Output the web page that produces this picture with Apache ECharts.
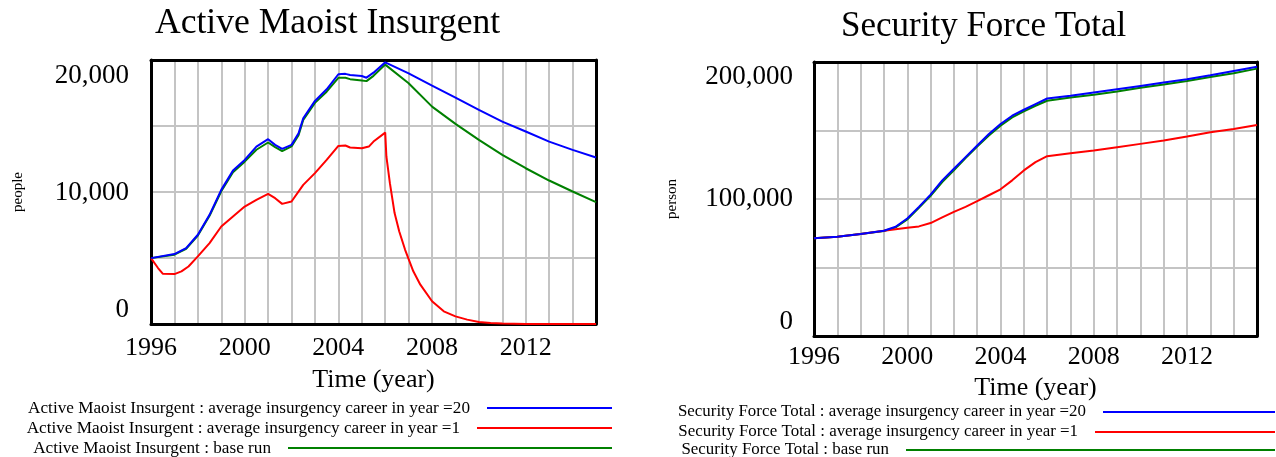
<!DOCTYPE html>
<html>
<head>
<meta charset="utf-8">
<script src="https://cdn.jsdelivr.net/npm/echarts@6/dist/echarts.min.js"></script>
<style>
html,body{margin:0;padding:0;background:#fff;}
#main{width:1276px;height:457px;}
</style>
</head>
<body>
<div id="main"></div>
<script>
// Active Maoist Insurgent (people)
var insYears=[1996,1997,1997.5,1998,1998.5,1999,1999.5,2000,2000.5,2001,2001.3,2001.6,2002,2002.3,2002.5,2003,2003.5,2004,2004.3,2004.5,2005,2005.2,2005.5,2006,2007,2008,2009,2010,2011,2012,2013,2014,2015];
var insCareer20=[4990,5300,5750,6760,8270,10160,11630,12430,13440,14000,13570,13270,13570,14450,15590,16900,17780,18920,18950,18870,18790,18660,19040,19820,18990,18060,17150,16220,15330,14580,13820,13190,12610];
var insBase=[4990,5250,5700,6700,8200,10050,11500,12300,13200,13750,13400,13100,13450,14300,15450,16750,17600,18650,18650,18550,18450,18400,18800,19650,18240,16470,15160,13950,12810,11800,10870,10040,9230];
var insRedYears=[1996,1996.3,1996.5,1997,1997.3,1997.6,1998,1998.5,1999,1999.5,2000,2000.5,2001,2001.3,2001.6,2002,2002.5,2003,2003.5,2004,2004.3,2004.5,2005,2005.3,2005.5,2006,2006.05,2006.2,2006.4,2006.6,2006.85,2007.2,2007.5,2008,2008.5,2009,2009.5,2010,2010.5,2011,2012,2013,2014,2015];
var insCareer1=[4990,4240,3810,3780,3990,4360,5120,6130,7390,8150,8900,9410,9860,9530,9100,9280,10540,11430,12430,13490,13520,13370,13320,13440,13820,14500,12690,10670,8400,7010,5620,3990,2980,1720,960,580,330,150,80,30,0,0,0,0];

// Security Force Total (person)
var secYears=[1996,1997,1998,1999,1999.5,2000,2000.5,2001,2001.5,2002,2002.5,2003,2003.5,2004,2004.5,2005,2005.5,2006,2007,2008,2009,2010,2011,2012,2013,2014,2015];
var secCareer20=[71290,72500,74430,76850,79750,85800,94270,103220,113620,122090,130550,139020,147490,154750,160800,165150,169270,173370,175300,177720,180140,182550,184970,187390,190290,193430,196580];
var secBase=[71290,72500,74430,76610,79270,85080,93550,102260,112420,120890,129840,138310,146290,153550,159600,163950,168070,171700,174120,176050,178470,181130,183550,186210,189110,191780,195170];
var secCareer1=[71290,72500,74430,76850,78000,79030,80000,82420,86530,90640,94270,98380,102730,107090,113620,120880,126930,131280,133460,135400,137820,140240,142660,145560,148700,151120,154020];

var insTicks=[0,10000,20000];
var secTicks=[0,100000,200000];

var insNames=['Active Maoist Insurgent : average insurgency career in year =20','Active Maoist Insurgent : average insurgency career in year =1','Active Maoist Insurgent : base run'];
var secNames=['Security Force Total : average insurgency career in year =20','Security Force Total : average insurgency career in year =1','Security Force Total : base run'];

var FONT="'Liberation Serif','Times New Roman',serif";
var BLUE='#0000ff', RED='#ff0000', GREEN='#008000';

var chart=echarts.init(document.getElementById('main'));

function pairs(xs,ys){
	var out=[];
	for(var i=0;i<xs.length;i++){
		out.push([xs[i],ys[i]]);
	}
	return out;
}

function fmt(v){
	return Math.round(v).toLocaleString('en-US');
}

function xAxisFor(idx,gap,margin){
	return {
		gridIndex:idx, type:'value', min:1996, max:2015, interval:1,
		axisLine:{show:false}, axisTick:{show:false},
		splitLine:{show:true,lineStyle:{color:'#c4c4c4',width:2}},
		axisLabel:{
			margin:margin, fontFamily:FONT, fontSize:26, color:'#000',
			formatter:function(v){ return v%4===0 ? String(v) : ''; }
		},
		name:'Time (year)', nameLocation:'middle', nameGap:gap,
		nameTextStyle:{fontFamily:FONT,fontSize:26,color:'#000'}
	};
}

function gridAxis(idx,max,step,name,gap){
	return {
		gridIndex:idx, type:'value', min:0, max:max, interval:step,
		axisLine:{show:false}, axisTick:{show:false}, axisLabel:{show:false},
		splitLine:{show:true,lineStyle:{color:'#c4c4c4',width:2}},
		name:name, nameLocation:'middle', nameRotate:90, nameGap:gap,
		nameTextStyle:{fontFamily:FONT,fontSize:15,color:'#000'}
	};
}

// Vensim pulls the end labels inward, so labels sit on a second, slightly wider axis
function labelAxis(idx,lo,hi,ticks,margin){
	return {
		gridIndex:idx, type:'value', min:lo, max:hi, position:'left',
		axisLine:{show:false}, axisTick:{show:false}, splitLine:{show:false},
		axisLabel:{
			customValues:ticks, margin:margin, fontFamily:FONT, fontSize:27, color:'#000',
			formatter:fmt
		}
	};
}

// plain black frame line, above gridlines but under the series
function frame(idx,pos,lo,hi){
	return {
		gridIndex:idx, type:'value', min:lo, max:hi, position:pos, z:1,
		axisLine:{show:true,onZero:false,lineStyle:{color:'#000',width:3}},
		axisTick:{show:false}, axisLabel:{show:false}, splitLine:{show:false}
	};
}

function legendRow(name,right,center,width,size){
	return {
		data:[name], right:right, top:center-8, padding:0, itemGap:0,
		align:'right', icon:'rect', itemWidth:width, itemHeight:2,
		selectedMode:false,
		textStyle:{fontFamily:FONT,fontSize:size,lineHeight:18,color:'#000',padding:[0,12,0,0]}
	};
}

function line(name,color,xi,yi,data){
	return {
		name:name, type:'line', xAxisIndex:xi, yAxisIndex:yi,
		showSymbol:false, symbol:'none', data:data,
		itemStyle:{color:color},
		lineStyle:{color:color,width:2}
	};
}

chart.setOption({
	animation:false,
	backgroundColor:'#fff',
	title:[
		{text:'Active Maoist Insurgent',left:155,top:6,padding:0,
			textStyle:{fontFamily:FONT,fontSize:35.6,fontWeight:'normal',color:'#000'}},
		{text:'Security Force Total',left:841,top:9,padding:0,
			textStyle:{fontFamily:FONT,fontSize:35,fontWeight:'normal',color:'#000'}}
	],
	grid:[
		{left:151,right:680,top:60,bottom:133},
		{left:814,right:19,top:62,bottom:121}
	],
	xAxis:[
		xAxisFor(0,43,11),
		xAxisFor(1,39,8),
		frame(0,'bottom',1996,2015),
		frame(0,'top',1996,2015),
		frame(1,'bottom',1996,2015),
		frame(1,'top',1996,2015)
	],
	yAxis:[
		gridAxis(0,20000,5000,'people',125),
		labelAxis(0,-1195,21340,insTicks,22),
		gridAxis(1,200000,50000,'person',134),
		labelAxis(1,-11670,212240,secTicks,21),
		frame(0,'left',0,20000),
		frame(0,'right',0,20000),
		frame(1,'left',0,200000),
		frame(1,'right',0,200000)
	],
	legend:[
		legendRow(insNames[0],664,407,125,17.2),
		legendRow(insNames[1],664,427,135,17.2),
		legendRow(insNames[2],664,447,324,17.2),
		legendRow(secNames[0],1,411,172,16.9),
		legendRow(secNames[1],1,431,180,16.9),
		legendRow(secNames[2],1,449,369,16.9)
	],
	series:[
		line(insNames[2],GREEN,0,0,pairs(insYears,insBase)),
		line(insNames[1],RED,0,0,pairs(insRedYears,insCareer1)),
		line(insNames[0],BLUE,0,0,pairs(insYears,insCareer20)),
		line(secNames[2],GREEN,1,2,pairs(secYears,secBase)),
		line(secNames[1],RED,1,2,pairs(secYears,secCareer1)),
		line(secNames[0],BLUE,1,2,pairs(secYears,secCareer20))
	]
});
</script>
</body>
</html>
